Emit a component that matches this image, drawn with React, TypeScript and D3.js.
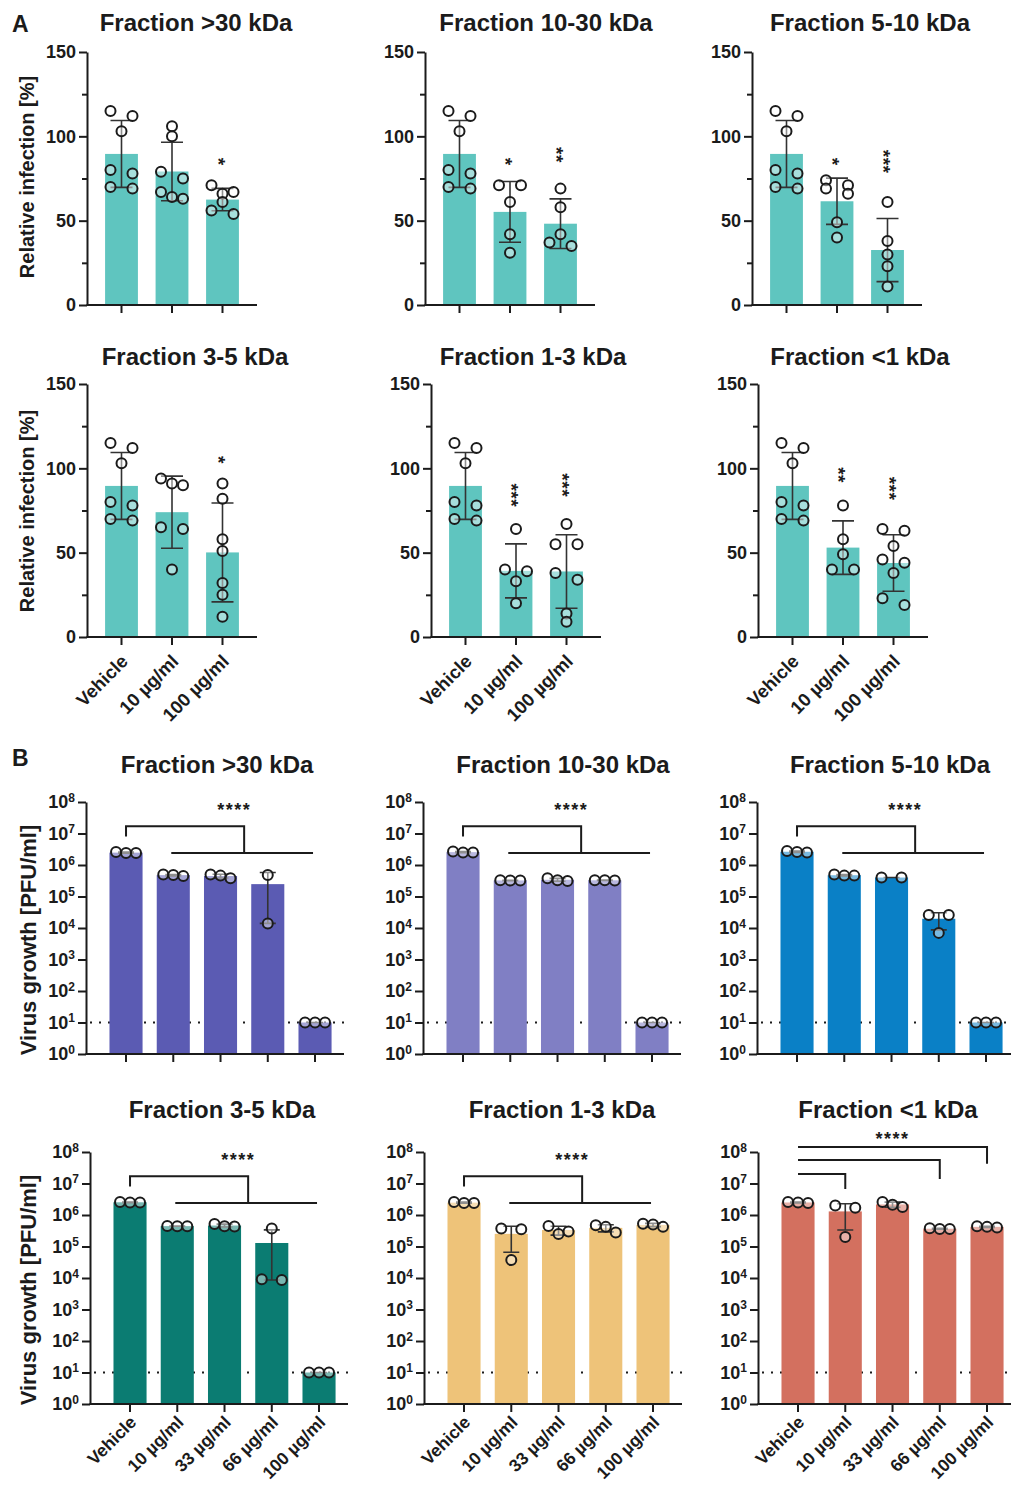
import * as d3 from 'd3';
import React, { useEffect, useRef } from 'react';

const WIDTH = 1011;
const HEIGHT = 1490;
const FONT = '"Liberation Sans", Arial, Helvetica, sans-serif';
const INK = "#1b1b1b";

// Panel titles, same order in A and B
const fractionTitles = [
  "Fraction >30 kDa", "Fraction 10-30 kDa", "Fraction 5-10 kDa",
  "Fraction 3-5 kDa", "Fraction 1-3 kDa", "Fraction <1 kDa"
];

// ---- A: relative infection ----
const infectionDoses = ["Vehicle", "10 µg/ml", "100 µg/ml"];
const infectionTicks = [0, 50, 100, 150];
const infectionMinorTicks = [25, 75, 125];
const infectionColor = "#5fc5bf";
const vehicleInfection = [115, 112, 103, 80, 78, 70, 69];
const infection10 = [
  [106, 100, 79, 75, 67, 64, 63],
  [71, 71, 61, 42, 31],
  [74, 71, 69, 66, 49, 40],
  [94, 91, 90, 65, 64, 40],
  [64, 40, 39, 33, 20],
  [78, 58, 49, 40, 40]
];
const infection100 = [
  [71, 67, 66, 61, 56, 54],
  [69, 58, 42, 37, 35],
  [61, 38, 30, 23, 11],
  [91, 82, 58, 51, 32, 25, 12],
  [67, 55, 55, 38, 34, 14, 9],
  [64, 63, 54, 46, 44, 38, 23, 19]
];
const infectionStars = [
  ["", "", "*"], ["", "*", "**"], ["", "*", "***"],
  ["", "", "*"], ["", "***", "***"], ["", "**", "***"]
];
const infectionStarLevel = [
  [0, 0, 85], [0, 85, 89], [0, 85, 85],
  [0, 0, 105], [0, 84, 90], [0, 96, 88]
];

// ---- B: virus growth ----
const growthDoses = ["Vehicle", "10 µg/ml", "33 µg/ml", "66 µg/ml", "100 µg/ml"];
const growthTicks = [1, 1e1, 1e2, 1e3, 1e4, 1e5, 1e6, 1e7, 1e8];
const detectionLimit = 10;
const growthColors = ["#5b5bb3", "#807fc4", "#0a80c6", "#0b7c72", "#eec379", "#d3705f"];
const growthPoints = [
  [[2.4e6, 2.6e6, 2.4e6], [4.5e5, 5.0e5, 4.8e5], [3.8e5, 5.0e5, 4.6e5], [4.8e5, 1.4e4], [10, 10, 10]],
  [[2.5e6, 2.7e6, 2.5e6], [3.2e5, 3.3e5, 3.2e5], [3.1e5, 3.8e5, 3.3e5], [3.2e5, 3.3e5, 3.3e5], [10, 10, 10]],
  [[2.6e6, 2.8e6, 2.5e6], [4.6e5, 5.0e5, 4.6e5], [4.0e5, 4.0e5], [2.6e4, 2.6e4, 7e3], [10, 10, 10]],
  [[2.5e6, 2.6e6, 2.5e6], [4.4e5, 4.5e5, 4.4e5], [4.3e5, 5.2e5, 4.4e5], [3.7e5, 8.6e3, 9.1e3], [10, 10, 10]],
  [[2.4e6, 2.6e6, 2.4e6], [3.7e5, 3.5e5, 3.7e4], [2.5e5, 3.0e5, 4.5e5], [2.8e5, 4.7e5, 4.2e5], [4.2e5, 5.3e5, 5.0e5]],
  [[2.5e6, 2.6e6, 2.4e6], [2.0e6, 1.7e6, 2.0e5], [1.8e6, 2.1e6, 2.6e6], [3.6e5, 3.8e5, 3.6e5], [4.0e5, 4.4e5, 4.2e5]]
];
const growthStars = "****";
// vehicle vs. all others (one bracket) or vehicle vs. each listed dose
const growthBracketMode = ["group", "group", "group", "group", "group", "pairs"];
const groupBracketLevels = { tick: 8e6, top: 1.7e7, line: 2.4e6, label: 7.4e7 };
const pairTargets = [1, 3, 4];
const pairBracketLevels = [[2e7, 6.7e6], [5.6e7, 1.4e7], [1.45e8, 4.2e7]];
const pairLabelLevel = 3.5e8;

// ---- layout ----
const infAxisX = [[87, 425, 752], [87, 431, 758]];
const infBaseY = [305, 637];
const infTopY = [52, 384];
const infTitleX = [[196, 546, 870], [195, 533, 860]];
const infTitleY = [31, 365];
const infLabelY = [177, 511];

const growthAxisX = [[86, 423, 757], [90, 424, 758]];
const growthBaseY = [1054, 1404];
const growthTopY = [802, 1152];
const growthTitleX = [[217, 563, 890], [222, 562, 888]];
const growthTitleY = [773, 1118];
const growthLabelY = [940, 1290];

type G = d3.Selection<SVGGElement, unknown, null, undefined>;

// GraphPad-like scatter: points with similar y share a row, spread symmetrically
function swarm(values: number[], y: (v: number) => number, slot: number, gap: number) {
  const order = d3.range(values.length).sort((a, b) => values[b] - values[a]);
  const offs = new Array(values.length).fill(0);
  let row: number[] = [];
  const flush = () => {
    const n = row.length;
    row.forEach((idx, j) => {
      if (n % 2 === 1) {
        offs[idx] = (j - (n - 1) / 2) * slot;
      } else {
        const h = n / 2;
        offs[idx] = (j < h ? j - h : j - h + 1) * slot;
      }
    });
    row = [];
  };
  order.forEach(idx => {
    if (row.length && Math.abs(y(values[idx]) - y(values[row[0]])) > gap) { flush(); }
    row.push(idx);
  });
  flush();
  return offs;
}

function drawDots(g: G, pts: number[], cx: number, y: (v: number) => number, slot: number) {
  const offs = swarm(pts, y, slot, 8);
  pts.forEach((v, i) => {
    g.append("circle")
      .attr("cx", cx + offs[i])
      .attr("cy", y(v))
      .attr("r", 5)
      .attr("fill", "#fff")
      .attr("fill-opacity", 0.45)
      .attr("stroke", INK)
      .attr("stroke-width", 2);
  });
}

function drawErrorBar(g: G, cx: number, yHi: number, yLo: number, cap: number) {
  const path = `M${cx},${yLo}V${yHi}M${cx - cap},${yHi}H${cx + cap}M${cx - cap},${yLo}H${cx + cap}`;
  g.append("path")
    .attr("d", path)
    .attr("fill", "none")
    .attr("stroke", "#333")
    .attr("stroke-width", 1.6);
}

function styleAxis(s: G, fontSize: number) {
  s.attr("color", INK);
  s.select(".domain").attr("stroke-width", 2);
  s.selectAll(".tick line").attr("stroke-width", 2);
  s.selectAll(".tick text")
    .attr("font-size", fontSize)
    .attr("font-weight", "bold")
    .attr("font-family", FONT)
    .attr("fill", INK);
}

function drawTitle(g: G, text: string, x: number, y: number) {
  g.append("text")
    .attr("x", x)
    .attr("y", y)
    .attr("text-anchor", "middle")
    .attr("font-size", 24)
    .attr("font-weight", "bold")
    .attr("font-family", FONT)
    .attr("fill", INK)
    .text(text);
}

function drawYLabel(g: G, text: string, x: number, y: number, size: number) {
  g.append("text")
    .attr("transform", `translate(${x},${y}) rotate(-90)`)
    .attr("text-anchor", "middle")
    .attr("dominant-baseline", "central")
    .attr("font-size", size)
    .attr("font-weight", "bold")
    .attr("font-family", FONT)
    .attr("fill", INK)
    .text(text);
}

function drawXAxis(g: G, x: d3.ScaleBand<string>, ax: number, len: number, base: number,
  showLabels: boolean, labelDrop: number, labelSize: number) {
  g.append("line")
    .attr("x1", ax - 0.5).attr("x2", ax + len)
    .attr("y1", base).attr("y2", base)
    .attr("stroke", INK).attr("stroke-width", 2);

  const axis = g.append("g")
    .attr("transform", `translate(0,${base})`)
    .call(d3.axisBottom(x).tickSize(8).tickSizeOuter(0));
  axis.select(".domain").remove();
  styleAxis(axis, labelSize);
  if (showLabels) {
    axis.selectAll(".tick text")
      .attr("x", 0).attr("y", 0).attr("dy", "0.35em")
      .attr("text-anchor", "end")
      .attr("transform", `translate(3,${labelDrop}) rotate(-45)`);
  } else {
    axis.selectAll(".tick text").remove();
  }
}

function drawInfectionPanel(svg: G, i: number) {
  const row = Math.floor(i / 3);
  const col = i % 3;
  const ax = infAxisX[row][col];
  const base = infBaseY[row];
  const y = d3.scaleLinear().domain([0, 150]).range([base, infTopY[row]]);
  const x = d3.scaleBand<string>()
    .domain(infectionDoses)
    .range([ax + 9.25, ax + 160.75])
    .paddingInner(0.35)
    .paddingOuter(0.175);
  const groups = [vehicleInfection, infection10[i], infection100[i]];
  const center = (k: number) => x(infectionDoses[k])! + x.bandwidth() / 2;
  const g = svg.append("g");

  groups.forEach((pts, k) => {
    const m = d3.mean(pts)!;
    g.append("rect")
      .attr("x", x(infectionDoses[k])!)
      .attr("y", y(m))
      .attr("width", x.bandwidth())
      .attr("height", base - y(m))
      .attr("fill", infectionColor);
  });
  groups.forEach((pts, k) => {
    const m = d3.mean(pts)!;
    const sd = d3.deviation(pts)!;
    drawErrorBar(g, center(k), y(m + sd), y(m - sd), 11);
  });
  groups.forEach((pts, k) => drawDots(g, pts, center(k), y, 11));

  // significance stars, written vertically (text turned 90 degrees)
  infectionStars[i].forEach((s, k) => {
    if (!s) { return; }
    const fs = 19;
    g.append("text")
      .attr("transform", `translate(${center(k) - fs * 0.57},${y(infectionStarLevel[i][k])}) rotate(90)`)
      .attr("text-anchor", "middle")
      .attr("font-size", fs)
      .attr("font-weight", "bold")
      .attr("letter-spacing", 0.5)
      .attr("font-family", FONT)
      .attr("fill", INK)
      .text(s);
  });

  const yAxis = g.append("g")
    .attr("transform", `translate(${ax},0)`)
    .call(d3.axisLeft(y).tickValues(infectionTicks).tickSize(8).tickSizeOuter(0).tickPadding(3).tickFormat(d3.format("d")));
  styleAxis(yAxis, 18);
  const minor = g.append("g")
    .attr("transform", `translate(${ax},0)`)
    .call(d3.axisLeft(y).tickValues(infectionMinorTicks).tickSize(5).tickFormat(() => ""));
  minor.select(".domain").remove();
  styleAxis(minor, 18);

  drawXAxis(g, x, ax, 170, base, row === 1, 21, 18.5);
  drawTitle(g, fractionTitles[i], infTitleX[row][col], infTitleY[row]);
  if (col === 0) { drawYLabel(g, "Relative infection [%]", 27, infLabelY[row], 20); }
}

function drawGrowthPanel(svg: G, i: number) {
  const row = Math.floor(i / 3);
  const col = i % 3;
  const ax = growthAxisX[row][col];
  const base = growthBaseY[row];
  const y = d3.scaleLog().domain([1, 1e8]).range([base, growthTopY[row]]);
  const x = d3.scaleBand<string>()
    .domain(growthDoses)
    .range([ax + 16.4, ax + 252.65])
    .paddingInner(0.3)
    .paddingOuter(0.15);
  const groups = growthPoints[i];
  const center = (k: number) => x(growthDoses[k])! + x.bandwidth() / 2;
  const g = svg.append("g");

  // detection limit, dotted, behind the bars
  g.append("line")
    .attr("x1", ax + 4).attr("x2", ax + 258)
    .attr("y1", y(detectionLimit)).attr("y2", y(detectionLimit))
    .attr("stroke", INK).attr("stroke-width", 2)
    .attr("stroke-dasharray", "2,7");

  groups.forEach((pts, k) => {
    const m = d3.mean(pts)!;
    g.append("rect")
      .attr("x", x(growthDoses[k])!)
      .attr("y", y(m))
      .attr("width", x.bandwidth())
      .attr("height", base - y(m))
      .attr("fill", growthColors[i]);
  });
  groups.forEach((pts, k) => {
    const m = d3.mean(pts)!;
    const sd = d3.deviation(pts) || 0;
    const lo = m - sd > 0 ? m - sd : d3.min(pts)!;
    drawErrorBar(g, center(k), y(m + sd), y(lo), 8);
  });
  groups.forEach((pts, k) => drawDots(g, pts, center(k), y, 10));

  // significance brackets
  const bracket = (d: string) => g.append("path")
    .attr("d", d).attr("fill", "none")
    .attr("stroke", INK).attr("stroke-width", 2);
  const stars = (sx: number, level: number) => g.append("text")
    .attr("x", sx)
    .attr("y", y(level) + 18 * 0.57)
    .attr("text-anchor", "middle")
    .attr("font-size", 18)
    .attr("font-weight", "bold")
    .attr("letter-spacing", 1.5)
    .attr("font-family", FONT)
    .attr("fill", INK)
    .text(growthStars);

  if (growthBracketMode[i] === "group") {
    const c0 = center(0);
    const c1 = center(1);
    const c4 = center(4);
    const dropX = (c1 + c4) / 2;
    bracket(`M${c0},${y(groupBracketLevels.tick)}V${y(groupBracketLevels.top)}H${dropX}V${y(groupBracketLevels.line)}`);
    bracket(`M${c1 - 2},${y(groupBracketLevels.line)}H${c4 - 2}`);
    stars(dropX - 10, groupBracketLevels.label);
  } else {
    const c0 = center(0);
    pairTargets.forEach((t, j) => {
      const [top, end] = pairBracketLevels[j];
      bracket(`M${c0},${y(top)}H${center(t)}V${y(end)}`);
    });
    stars((c0 + center(4)) / 2, pairLabelLevel);
  }

  const yAxis = g.append("g")
    .attr("transform", `translate(${ax},0)`)
    .call(d3.axisLeft(y).tickValues(growthTicks).tickSize(8).tickSizeOuter(0).tickPadding(3).tickFormat(() => ""));
  styleAxis(yAxis, 18);
  yAxis.selectAll<SVGTextElement, number>(".tick text").each(function (d) {
    const t = d3.select(this);
    t.append("tspan").text("10");
    t.append("tspan")
      .attr("dy", "-0.55em")
      .attr("font-size", 12)
      .text(String(Math.round(Math.log10(d))));
  });

  drawXAxis(g, x, ax, 258, base, row === 1, 15, 17.5);
  drawTitle(g, fractionTitles[i], growthTitleX[row][col], growthTitleY[row]);
  if (col === 0) { drawYLabel(g, "Virus growth [PFU/ml]", 28, growthLabelY[row], 22); }
}

const App: React.FC = () => {
  const svgRef = useRef<SVGSVGElement>(null);

  useEffect(() => {
    if (!svgRef.current) { return; }
    const root = d3.select(svgRef.current);
    root.selectAll("*").remove();
    const svg = root.append("g") as unknown as G;

    // panel letters
    [["A", 32], ["B", 766]].forEach(([letter, ly]) => {
      svg.append("text")
        .attr("x", 12)
        .attr("y", ly as number)
        .attr("font-size", 23)
        .attr("font-weight", "bold")
        .attr("font-family", FONT)
        .attr("fill", INK)
        .text(letter as string);
    });

    fractionTitles.forEach((_, i) => drawInfectionPanel(svg, i));
    fractionTitles.forEach((_, i) => drawGrowthPanel(svg, i));
  }, []);

  return (
    <svg
      ref={svgRef}
      width={WIDTH}
      height={HEIGHT}
      style={{ position: "absolute", left: 0, top: 0, background: "#fff" }}
    />
  );
};

export default App;
